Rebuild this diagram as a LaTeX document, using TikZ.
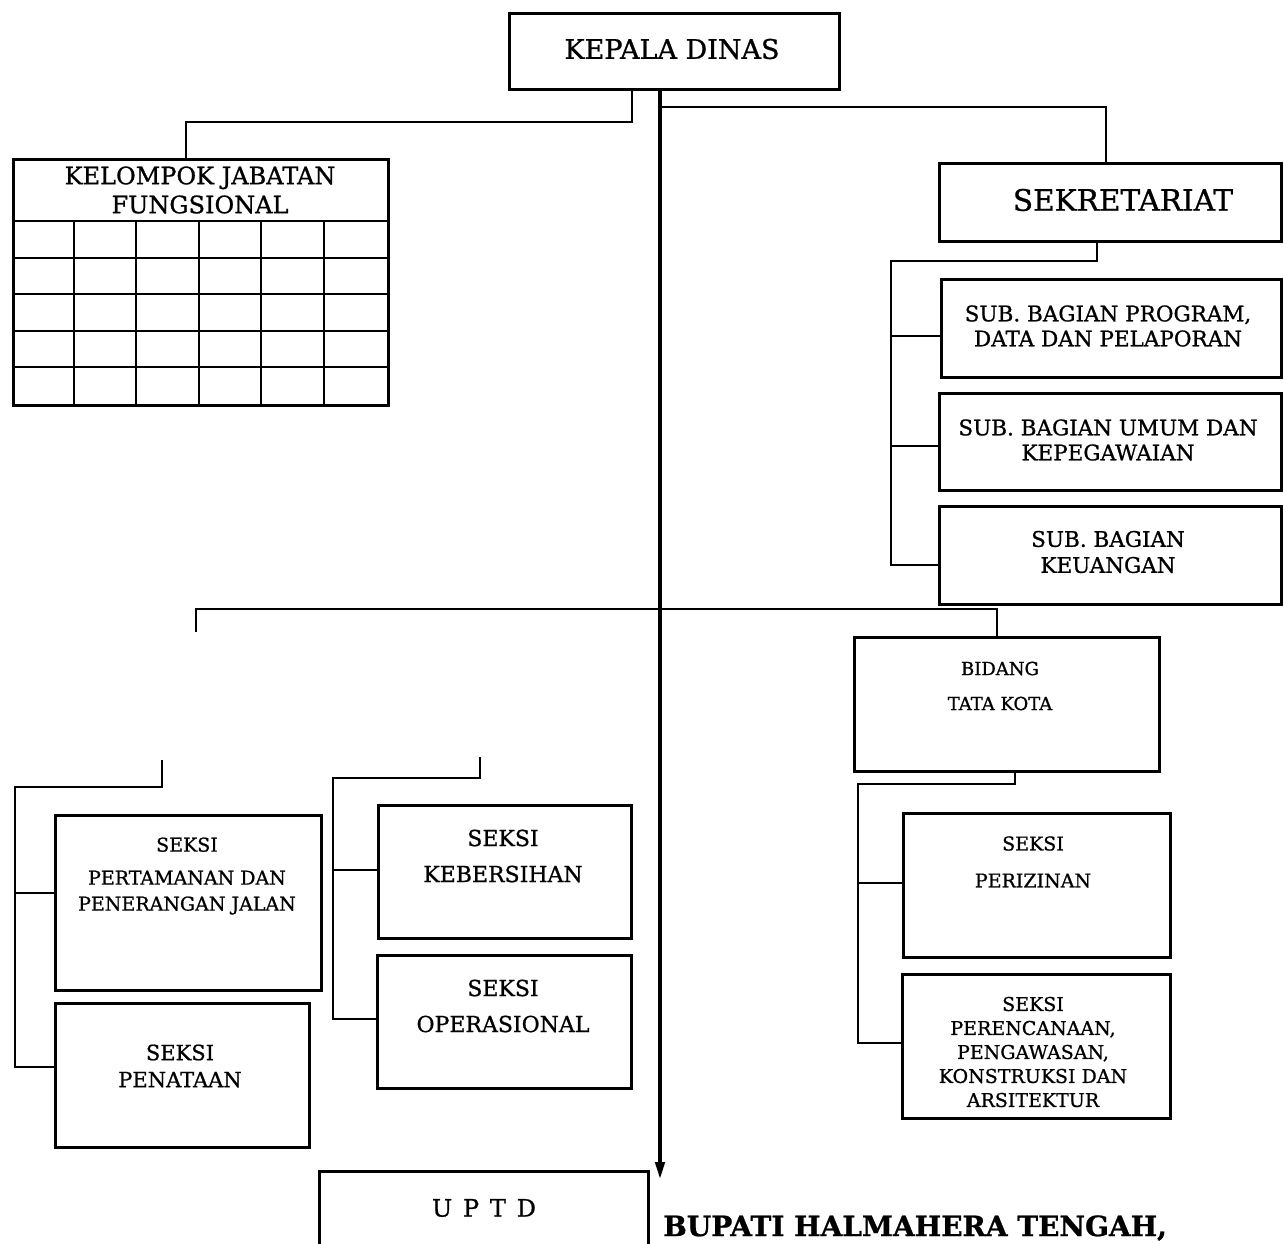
\documentclass[tikz,border=0pt]{standalone}
\usepackage{fontspec}
\setmainfont{DejaVu Serif}[FakeBold=0.9]
\usetikzlibrary{arrows.meta}
\newcommand{\fs}[2]{\fontsize{#1}{#2}\selectfont}
\begin{document}
\begin{tikzpicture}[x=1pt,y=-1pt,
  bx/.style={draw, line width=2.6pt, rectangle, inner sep=0pt, anchor=north west},
  thickbx/.style={bx, line width=3.3pt},
  conn/.style={line width=2pt},
  mainl/.style={line width=4.2pt},
  txt/.style={align=center, inner sep=0pt}]
\clip (0,0) rectangle (1284,1243);
\fill[white] (0,0) rectangle (1284,1243);
% boxes
\node[thickbx, minimum width=330pt, minimum height=76pt] (kd) at (508,12) {};
\node[thickbx, minimum width=375pt, minimum height=246pt] (kjf) at (12,158) {};
\node[thickbx, minimum width=342pt, minimum height=78pt] (sek) at (938,162) {};
\node[bx, minimum width=340pt, minimum height=98pt] (prog) at (940,278) {};
\node[bx, minimum width=342pt, minimum height=97pt] (umum) at (938,392) {};
\node[bx, minimum width=342pt, minimum height=98pt] (keu) at (938,505) {};
\node[bx, minimum width=305pt, minimum height=134pt] (bid) at (853,636) {};
\node[bx, minimum width=267pt, minimum height=144pt] (perz) at (902,812) {};
\node[bx, minimum width=268pt, minimum height=144pt] (pren) at (901,973) {};
\node[bx, minimum width=266pt, minimum height=175pt] (pert) at (54,814) {};
\node[bx, minimum width=254pt, minimum height=144pt] (pen) at (54,1002) {};
\node[bx, minimum width=253pt, minimum height=133pt] (keb) at (377,804) {};
\node[bx, minimum width=254pt, minimum height=133pt] (ops) at (376,954) {};
\node[thickbx, minimum width=329pt, minimum height=110pt] (uptd) at (318,1170) {};
% KJF grid
\draw[line width=2.8pt] (12,221) -- (387,221);
\foreach \yy in {258,294,331,367} \draw[line width=2.8pt] (12,\yy) -- (387,\yy);
\foreach \xx in {74,136,199,261,324} \draw[line width=2.8pt] (\xx,221) -- (\xx,404);
% texts
\node[txt, font=\fs{27}{30}] (tkd) at (672,49) {KEPALA DINAS};
\node[txt, font=\fs{24}{29}] (tkjf) at (200,190) {KELOMPOK JABATAN\\FUNGSIONAL};
\node[txt, font=\fs{29.5}{30}] (tsek) at (1123,200) {SEKRETARIAT};
\node[txt, font=\fs{21.5}{25}] (tprog) at (1108,326) {SUB. BAGIAN PROGRAM,\\DATA DAN PELAPORAN};
\node[txt, font=\fs{21.5}{25}] (tumum) at (1108,440) {SUB. BAGIAN UMUM DAN\\KEPEGAWAIAN};
\node[txt, font=\fs{21.5}{26}] (tkeu) at (1108,552) {SUB. BAGIAN\\KEUANGAN};
\node[txt, font=\fs{18}{35}] (tbid) at (1000,686) {BIDANG\\TATA KOTA};
\node[txt, font=\fs{19}{37}] (tperz) at (1033,862) {SEKSI\\PERIZINAN};
\node[txt, font=\fs{19}{24}] (tpren) at (1033,1052) {SEKSI\\PERENCANAAN,\\PENGAWASAN,\\KONSTRUKSI DAN\\ARSITEKTUR};
\node[txt, font=\fs{19}{26}] (tpert) at (187,876) {SEKSI\\[7pt]PERTAMANAN DAN\\PENERANGAN JALAN};
\node[txt, font=\fs{21}{27}] (tpen) at (180,1066) {SEKSI\\PENATAAN};
\node[txt, font=\fs{22}{36}] (tkeb) at (503,856) {SEKSI\\KEBERSIHAN};
\node[txt, font=\fs{22}{36}] (tops) at (503,1006) {SEKSI\\OPERASIONAL};
\node[txt, font=\fs{24}{28}] (tuptd) at (484,1208) {U\hspace{0.45em}P\hspace{0.45em}T\hspace{0.45em}D};
\node[txt, font=\fs{28}{30}\bfseries, anchor=west] (bup) at (663,1228) {BUPATI HALMAHERA TENGAH,};
% coordinates
\coordinate (mx) at (660,0);
\coordinate (mend) at (660,1180);
\coordinate (a1) at (632,122);
\coordinate (a2) at (186,122);
\coordinate (b1) at (1106,107);
\coordinate (c1) at (1097,261);
\coordinate (c2) at (891,261);
\coordinate (c3) at (891,565);
\coordinate (cp) at (891,336);
\coordinate (cu) at (891,446);
\coordinate (d1) at (196,609);
\coordinate (d0) at (196,632);
\coordinate (d2) at (997,609);
\coordinate (e0) at (162,760);
\coordinate (e1) at (162,787);
\coordinate (e2) at (15,787);
\coordinate (e3) at (15,1067);
\coordinate (ep) at (15,893);
\coordinate (f0) at (480,757);
\coordinate (f1) at (480,778);
\coordinate (f2) at (333,778);
\coordinate (f3) at (333,1019);
\coordinate (fk) at (333,870);
\coordinate (g1) at (1015,784);
\coordinate (g2) at (858,784);
\coordinate (g3) at (858,1043);
\coordinate (gp) at (858,883);
% connectors
\draw[mainl, -{Triangle[length=18pt,width=9pt]}] (kd.south -| mx) -- (mend);
\draw[conn] (a1 |- kd.south) -- (a1) -- (a2) -- (a2 |- kjf.north);
\draw[conn] (b1 -| mx) -- (b1) -- (b1 |- sek.north);
\draw[conn] (c1 |- sek.south) -- (c1) -- (c2) -- (c3) -- (c3 -| keu.west);
\draw[conn] (cp) -- (cp -| prog.west);
\draw[conn] (cu) -- (cu -| umum.west);
\draw[conn] (d0) -- (d1) -- (d2) -- (d2 |- bid.north);
\draw[conn] (e0) -- (e1) -- (e2) -- (e3) -- (e3 -| pen.west);
\draw[conn] (ep) -- (ep -| pert.west);
\draw[conn] (f0) -- (f1) -- (f2) -- (f3) -- (f3 -| ops.west);
\draw[conn] (fk) -- (fk -| keb.west);
\draw[conn] (g1 |- bid.south) -- (g1) -- (g2) -- (g3) -- (g3 -| pren.west);
\draw[conn] (gp) -- (gp -| perz.west);
\end{tikzpicture}
\end{document}
